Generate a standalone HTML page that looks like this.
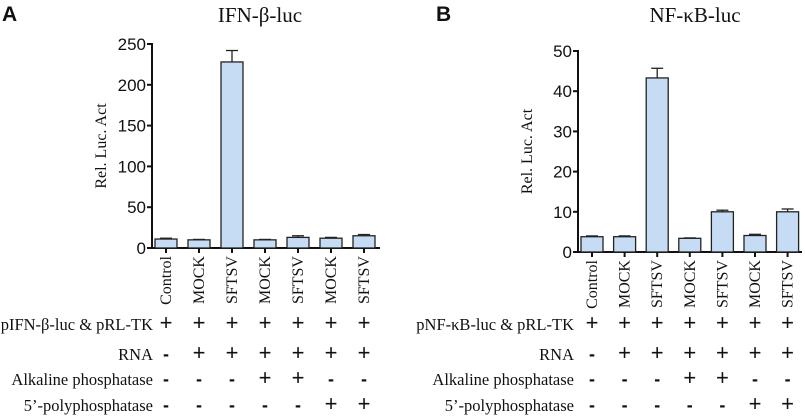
<!DOCTYPE html>
<html><head><meta charset="utf-8"><style>
body{margin:0;background:#fff;width:805px;height:417px;overflow:hidden}
svg{display:block}
.s{font-family:"Liberation Serif",serif;fill:#111}
.a{font-family:"Liberation Sans",sans-serif;fill:#111}
</style></head><body>
<svg id="c" width="805" height="417">
<text x="2" y="21" class="a" font-size="21" font-weight="bold">A</text>
<text x="436" y="21" class="a" font-size="21" font-weight="bold">B</text>
</svg>
<script>
const categories=["Control","MOCK","SFTSV","MOCK","SFTSV","MOCK","SFTSV"];
const valuesA=[11,10,228,10,13,12,15];
const errorsA=[1,0.5,14,0.5,2,1,1.5];
const valuesB=[3.8,3.8,43.3,3.4,10,4.1,10];
const errorsB=[0.2,0.2,2.4,0.1,0.4,0.3,0.7];
const ticksA=[0,50,100,150,200,250];
const ticksB=[0,10,20,30,40,50];
const rowLabelsA=["pIFN-β-luc & pRL-TK","RNA","Alkaline phosphatase","5’-polyphosphatase"];
const rowLabelsB=["pNF-κB-luc & pRL-TK","RNA","Alkaline phosphatase","5’-polyphosphatase"];
const rowSigns=[["+","+","+","+","+","+","+"],["-","+","+","+","+","+","+"],["-","-","-","+","+","-","-"],["-","-","-","-","-","+","+"]];
const svg=document.getElementById('c');const NS="http://www.w3.org/2000/svg";
function mk(t,a,p){const e=document.createElementNS(NS,t);for(const k in a)e.setAttribute(k,a[k]);(p||svg).appendChild(e);return e;}
function panel(o){
  const g=mk('g',{});
  
  
  const y=v=>o.y0-(v/o.max)*(o.y0-o.y1);
  const x=i=>o.xb+i*o.step;
  const t=mk('text',{x:o.tx,y:22,'text-anchor':'middle','font-size':21,class:'s'},g);t.textContent=o.title;
  
  
  const yt=mk('text',{x:0,y:0,'text-anchor':'middle','font-size':16,class:'s',transform:`translate(${o.ax-46},${(o.y0+o.y1)/2}) rotate(-90)`},g);yt.textContent="Rel. Luc. Act";
  
  
  mk('line',{x1:o.ax,y1:o.y1-1,x2:o.ax,y2:o.y0,stroke:'#111','stroke-width':2},g);
  mk('line',{x1:o.ax,y1:o.y0,x2:o.xe,y2:o.y0,stroke:'#111','stroke-width':2},g);
  o.ticks.forEach(v=>{mk('line',{x1:o.ax-5,y1:y(v),x2:o.ax,y2:y(v),stroke:'#111','stroke-width':2},g);
    const l=mk('text',{x:o.ax-6,y:y(v)+6,'text-anchor':'end','font-size':17,class:'a'},g);l.textContent=v;
    
    });
  o.vals.forEach((v,i)=>{
    const cx=x(i)+11;
    const ey=y(v+o.errs[i]);
    mk('line',{x1:cx,y1:ey,x2:cx,y2:y(v),stroke:'#222','stroke-width':1.3},g);
    mk('line',{x1:cx-6,y1:ey,x2:cx+6,y2:ey,stroke:'#222','stroke-width':1.3},g);
    const r=mk('rect',{x:x(i),y:y(v),width:22,height:o.y0-y(v),fill:'#c6dcf5',stroke:'#222','stroke-width':1.3},g);
    
    
    mk('line',{x1:cx,y1:o.y0,x2:cx,y2:o.y0+5,stroke:'#111','stroke-width':2},g);
    const l=mk('text',{x:0,y:0,'text-anchor':'end','font-size':16,class:'s',transform:`translate(${cx+5},${o.y0+8}) rotate(-90)`},g);l.textContent=categories[i];
    
    
  });
  const ry=[330,360,385,411];
  o.rows.forEach((lab,r)=>{
    const l=mk('text',{x:o.rx,y:ry[r],'text-anchor':'end','font-size':16.5,class:'s'},g);l.textContent=lab;
    
    
    rowSigns[r].forEach((s,i)=>{const c=mk('text',{x:x(i)+11,y:ry[r],'text-anchor':'middle','font-size':s=='+'?22:18,'font-weight':s=='-'?'bold':'normal',class:'a'},g);c.textContent=s;
      
      });
  });
}
panel({id:'ifn',title:'IFN-β-luc',tx:260,vals:valuesA,errs:errorsA,ticks:ticksA,max:250,y0:248,y1:44,ax:152,xb:155,step:33,xe:380,rows:rowLabelsA,rx:153});
panel({id:'nfkb',title:'NF-κB-luc',tx:695,vals:valuesB,errs:errorsB,ticks:ticksB,max:50,y0:252,y1:51,ax:578,xb:581,step:32.6,xe:802,rows:rowLabelsB,rx:574});
</script>
</body></html>
